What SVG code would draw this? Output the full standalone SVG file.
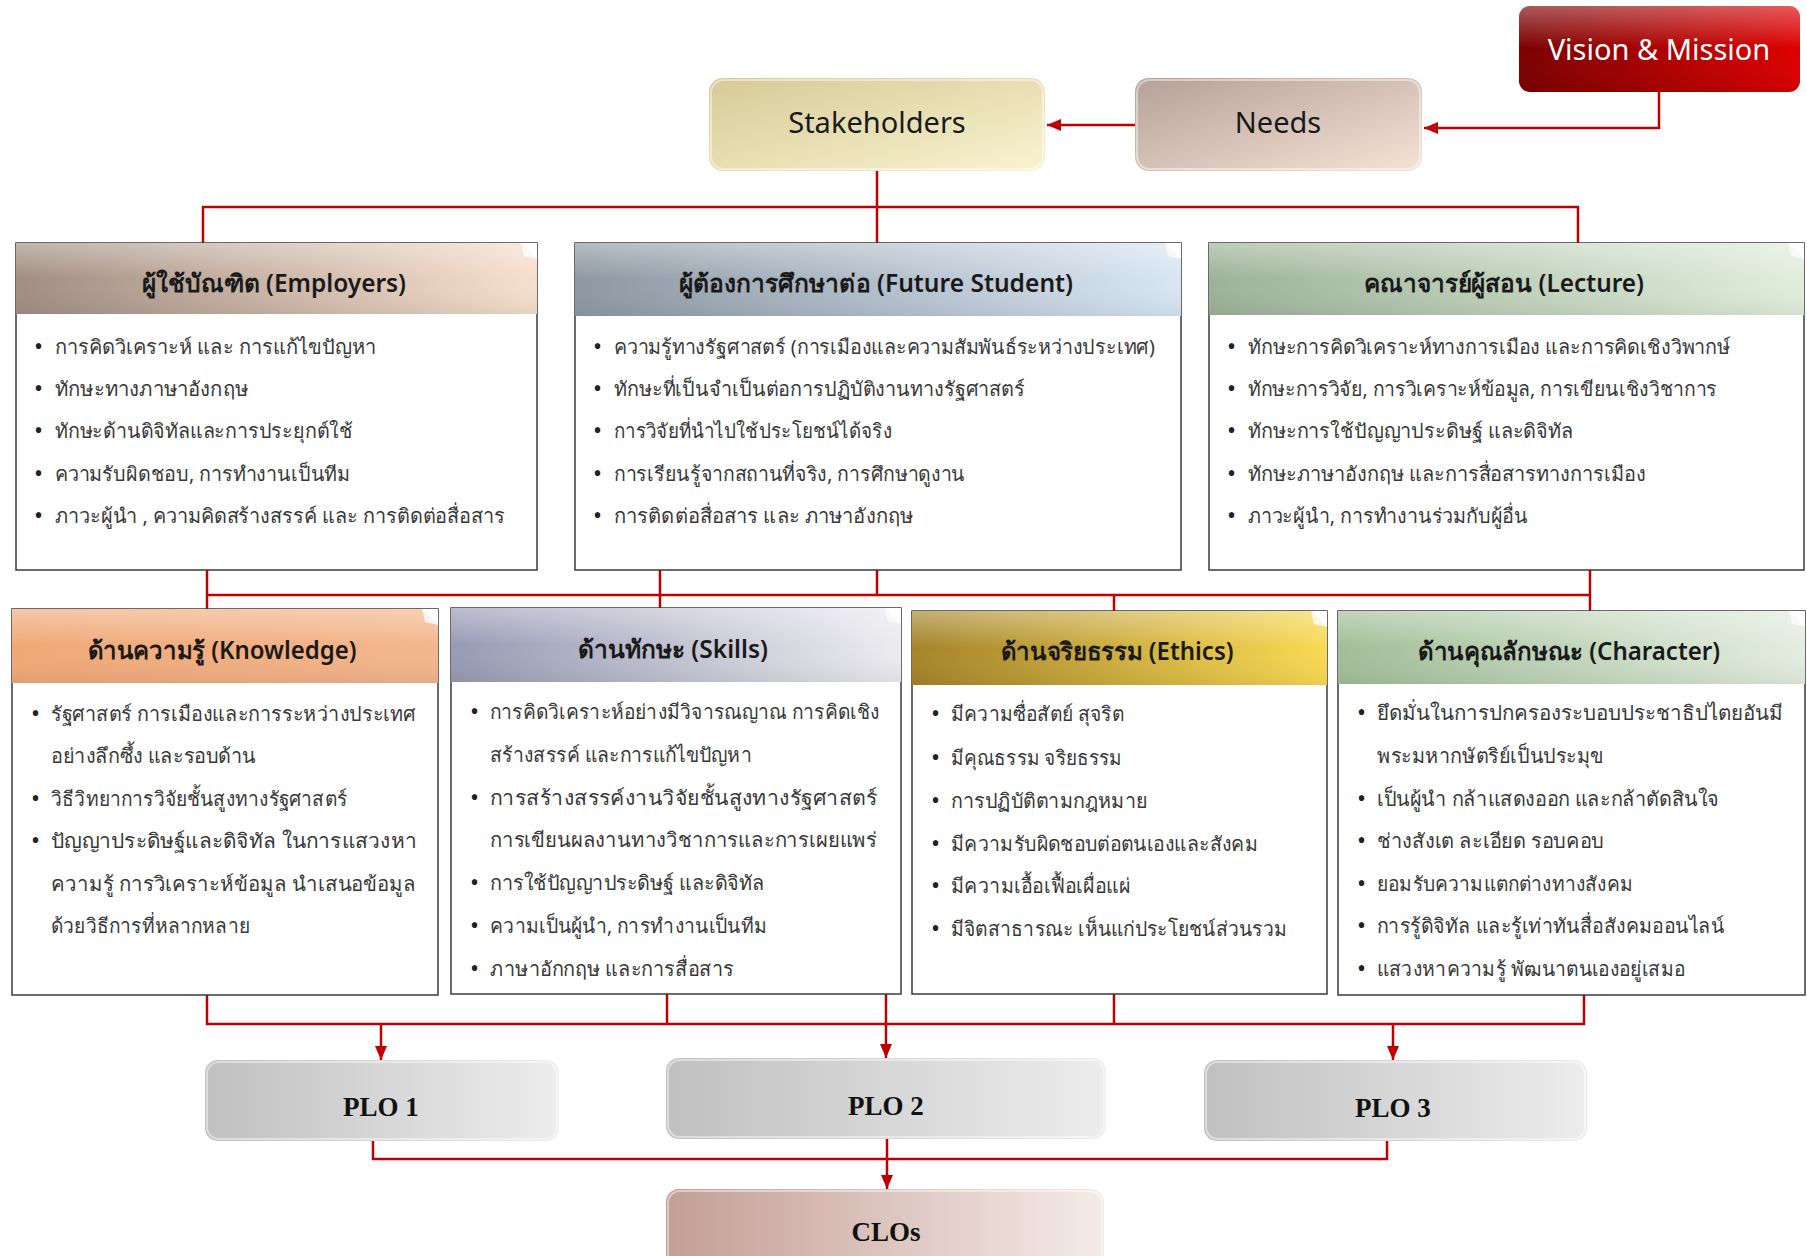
<svg xmlns="http://www.w3.org/2000/svg" width="1807" height="1256" viewBox="0 0 1807 1256">
<style>
.hd{font-family:"Noto Sans","Open Sans",sans-serif;font-size:24.5px;font-weight:600;fill:#1a1a1a;text-anchor:middle}
.tt{font-family:"Noto Sans","Open Sans",sans-serif;font-size:29px;fill:#1a1a1a;text-anchor:middle}
.bd{font-family:"Noto Sans",sans-serif;font-size:20px;fill:#383838}
.bd3{font-family:"Noto Sans",sans-serif;font-size:20.5px;fill:#383838}
.bu{font-size:24px;fill:#222}
.plo{font-family:"Liberation Serif",serif;font-weight:bold;font-size:27px;fill:#111;text-anchor:middle}
.body{fill:#fff;stroke:#3a3a3a;stroke-width:1.5}
.fold{fill:#fafafa;opacity:0.85}
.con{fill:none;stroke:#c00000;stroke-width:2.5}
.gloss{fill:none;stroke:#fff;stroke-opacity:0.45;stroke-width:2}
</style>
<defs>
<marker id="ah" viewBox="0 0 14 12" refX="14" refY="6" markerWidth="14" markerHeight="12" markerUnits="userSpaceOnUse" orient="auto"><path d="M0,0 L14,6 L0,12 z" fill="#c00000"/></marker>
<linearGradient id="gStake" x1="0" y1="0" x2="1" y2="1"><stop offset="0" stop-color="#d5ca96"/><stop offset="1" stop-color="#faf3d0"/></linearGradient>
<linearGradient id="gNeeds" x1="0" y1="0" x2="1" y2="1"><stop offset="0" stop-color="#b3a199"/><stop offset="1" stop-color="#f7e2d5"/></linearGradient>
<linearGradient id="gVision" x1="0" y1="0" x2="1" y2="0"><stop offset="0" stop-color="#7a0000"/><stop offset="1" stop-color="#dd0000"/></linearGradient>
<linearGradient id="gPLO" x1="0" y1="0" x2="1" y2="0"><stop offset="0" stop-color="#c0c0c0"/><stop offset="1" stop-color="#ededed"/></linearGradient>
<linearGradient id="gCLO" x1="0" y1="0" x2="1" y2="0"><stop offset="0" stop-color="#c49e95"/><stop offset="1" stop-color="#f5ebe8"/></linearGradient>
<linearGradient id="hEmp" x1="0" y1="0" x2="1" y2="0"><stop offset="0" stop-color="#a18e83"/><stop offset="1" stop-color="#f7dfcd"/></linearGradient>
<linearGradient id="hFS" x1="0" y1="0" x2="1" y2="0"><stop offset="0" stop-color="#8d98a3"/><stop offset="1" stop-color="#d8e6f3"/></linearGradient>
<linearGradient id="hLec" x1="0" y1="0" x2="1" y2="0"><stop offset="0" stop-color="#9db299"/><stop offset="1" stop-color="#e1eedc"/></linearGradient>
<linearGradient id="hKnow" x1="0" y1="0" x2="1" y2="0"><stop offset="0" stop-color="#f0a877"/><stop offset="1" stop-color="#f4b68c"/></linearGradient>
<linearGradient id="hSkill" x1="0" y1="0" x2="1" y2="0"><stop offset="0" stop-color="#989ab4"/><stop offset="1" stop-color="#ececf0"/></linearGradient>
<linearGradient id="hEth" x1="0" y1="0" x2="1" y2="0"><stop offset="0" stop-color="#a4842a"/><stop offset="1" stop-color="#f9d953"/></linearGradient>
<linearGradient id="hChar" x1="0" y1="0" x2="1" y2="0"><stop offset="0" stop-color="#a1be97"/><stop offset="1" stop-color="#e3ede0"/></linearGradient>
<linearGradient id="shine" x1="0" y1="0" x2="0" y2="1"><stop offset="0" stop-color="#fff" stop-opacity="0.35"/><stop offset="0.5" stop-color="#fff" stop-opacity="0"/><stop offset="1" stop-color="#000" stop-opacity="0.06"/></linearGradient>
</defs>
<rect width="1807" height="1256" fill="#fff"/>

<g id="connectors">
<path class="con" d="M1135,125 H1047" marker-end="url(#ah)"/>
<path class="con" d="M1659,92 V128 H1424" marker-end="url(#ah)"/>
<path class="con" d="M877,171 V243"/>
<path class="con" d="M203,243 V207 H1578 V243"/>
<path class="con" d="M207,570 V609"/>
<path class="con" d="M660,570 V608"/>
<path class="con" d="M877,570 V595"/>
<path class="con" d="M1590,570 V611"/>
<path class="con" d="M207,595 H1590"/>
<path class="con" d="M1114,595 V611"/>
<path class="con" d="M207,995 V1024 H1584 V995"/>
<path class="con" d="M667,994 V1024"/>
<path class="con" d="M1114,994 V1024"/>
<path class="con" d="M886,994 V1058" marker-end="url(#ah)"/>
<path class="con" d="M381,1024 V1060" marker-end="url(#ah)"/>
<path class="con" d="M1393,1024 V1060" marker-end="url(#ah)"/>
<path class="con" d="M373,1140 V1159 H1387 V1141"/>
<path class="con" d="M887,1139 V1189" marker-end="url(#ah)"/>
</g>

<g id="vision">
<rect x="1519" y="6" width="281" height="86" rx="11" fill="url(#gVision)"/>
<rect x="1519" y="6" width="281" height="86" rx="11" fill="url(#shine)"/>
<text x="1659" y="60" class="tt" style="fill:#fff">Vision &amp; Mission</text>
</g>
<g id="stakeholders">
<rect x="709" y="78" width="336" height="93" rx="14" fill="url(#gStake)"/>
<rect x="711" y="80" width="332" height="89" rx="13" class="gloss"/>
<text x="877" y="133" class="tt">Stakeholders</text>
</g>
<g id="needs">
<rect x="1135" y="78" width="287" height="93" rx="14" fill="url(#gNeeds)"/>
<rect x="1137" y="80" width="283" height="89" rx="13" class="gloss"/>
<text x="1278" y="133" class="tt">Needs</text>
</g>

<g id="employers">
<rect x="16" y="243" width="521" height="327" class="body"/>
<rect x="16" y="243" width="521" height="71" fill="url(#hEmp)"/>
<rect x="16" y="243" width="521" height="71" fill="url(#shine)"/>
<polygon points="521,243 537,259 524,256" class="fold"/>
<polygon points="521,243 537,243 537,259" fill="#fff"/>
<text x="274" y="292" class="hd" textLength="264" lengthAdjust="spacingAndGlyphs">ผู้ใช้บัณฑิต (Employers)</text>
<text class="bd"><tspan class="bu" x="34" y="355">•</tspan><tspan x="55" y="354" textLength="321" lengthAdjust="spacingAndGlyphs">การคิดวิเคราะห์ และ การแก้ไขปัญหา</tspan></text>
<text class="bd"><tspan class="bu" x="34" y="397">•</tspan><tspan x="55" y="396" textLength="193" lengthAdjust="spacingAndGlyphs">ทักษะทางภาษาอังกฤษ</tspan></text>
<text class="bd"><tspan class="bu" x="34" y="439">•</tspan><tspan x="55" y="438" textLength="298" lengthAdjust="spacingAndGlyphs">ทักษะด้านดิจิทัลและการประยุกต์ใช้</tspan></text>
<text class="bd"><tspan class="bu" x="34" y="482">•</tspan><tspan x="55" y="481" textLength="295" lengthAdjust="spacingAndGlyphs">ความรับผิดชอบ, การทำงานเป็นทีม</tspan></text>
<text class="bd"><tspan class="bu" x="34" y="524">•</tspan><tspan x="55" y="523" textLength="450" lengthAdjust="spacingAndGlyphs">ภาวะผู้นำ , ความคิดสร้างสรรค์ และ การติดต่อสื่อสาร</tspan></text>
</g>

<g id="future-student">
<rect x="575" y="243" width="606" height="327" class="body"/>
<rect x="575" y="243" width="606" height="73" fill="url(#hFS)"/>
<rect x="575" y="243" width="606" height="73" fill="url(#shine)"/>
<polygon points="1165,243 1181,259 1168,256" class="fold"/>
<polygon points="1165,243 1181,243 1181,259" fill="#fff"/>
<text x="876" y="292" class="hd" textLength="394" lengthAdjust="spacingAndGlyphs">ผู้ต้องการศึกษาต่อ (Future Student)</text>
<text class="bd"><tspan class="bu" x="593" y="355">•</tspan><tspan x="614" y="354" textLength="541" lengthAdjust="spacingAndGlyphs">ความรู้ทางรัฐศาสตร์ (การเมืองและความสัมพันธ์ระหว่างประเทศ)</tspan></text>
<text class="bd"><tspan class="bu" x="593" y="397">•</tspan><tspan x="614" y="396" textLength="411" lengthAdjust="spacingAndGlyphs">ทักษะที่เป็นจำเป็นต่อการปฏิบัติงานทางรัฐศาสตร์</tspan></text>
<text class="bd"><tspan class="bu" x="593" y="439">•</tspan><tspan x="614" y="438" textLength="278" lengthAdjust="spacingAndGlyphs">การวิจัยที่นำไปใช้ประโยชน์ได้จริง</tspan></text>
<text class="bd"><tspan class="bu" x="593" y="482">•</tspan><tspan x="614" y="481" textLength="351" lengthAdjust="spacingAndGlyphs">การเรียนรู้จากสถานที่จริง, การศึกษาดูงาน</tspan></text>
<text class="bd"><tspan class="bu" x="593" y="524">•</tspan><tspan x="614" y="523" textLength="299" lengthAdjust="spacingAndGlyphs">การติดต่อสื่อสาร และ ภาษาอังกฤษ</tspan></text>
</g>

<g id="lecture">
<rect x="1209" y="243" width="595" height="327" class="body"/>
<rect x="1209" y="243" width="595" height="72" fill="url(#hLec)"/>
<rect x="1209" y="243" width="595" height="72" fill="url(#shine)"/>
<polygon points="1788,243 1804,259 1791,256" class="fold"/>
<polygon points="1788,243 1804,243 1804,259" fill="#fff"/>
<text x="1504" y="292" class="hd" textLength="280" lengthAdjust="spacingAndGlyphs">คณาจารย์ผู้สอน (Lecture)</text>
<text class="bd"><tspan class="bu" x="1227" y="355">•</tspan><tspan x="1248" y="354" textLength="482" lengthAdjust="spacingAndGlyphs">ทักษะการคิดวิเคราะห์ทางการเมือง และการคิดเชิงวิพากษ์</tspan></text>
<text class="bd"><tspan class="bu" x="1227" y="397">•</tspan><tspan x="1248" y="396" textLength="469" lengthAdjust="spacingAndGlyphs">ทักษะการวิจัย, การวิเคราะห์ข้อมูล, การเขียนเชิงวิชาการ</tspan></text>
<text class="bd"><tspan class="bu" x="1227" y="439">•</tspan><tspan x="1248" y="438" textLength="325" lengthAdjust="spacingAndGlyphs">ทักษะการใช้ปัญญาประดิษฐ์ และดิจิทัล</tspan></text>
<text class="bd"><tspan class="bu" x="1227" y="482">•</tspan><tspan x="1248" y="481" textLength="398" lengthAdjust="spacingAndGlyphs">ทักษะภาษาอังกฤษ และการสื่อสารทางการเมือง</tspan></text>
<text class="bd"><tspan class="bu" x="1227" y="524">•</tspan><tspan x="1248" y="523" textLength="280" lengthAdjust="spacingAndGlyphs">ภาวะผู้นำ, การทำงานร่วมกับผู้อื่น</tspan></text>
</g>

<g id="knowledge">
<rect x="12" y="609" width="426" height="386" class="body"/>
<rect x="12" y="609" width="426" height="74" fill="url(#hKnow)"/>
<rect x="12" y="609" width="426" height="74" fill="url(#shine)"/>
<polygon points="422,609 438,625 425,622" class="fold"/>
<polygon points="422,609 438,609 438,625" fill="#fff"/>
<text x="222" y="659" class="hd" textLength="269" lengthAdjust="spacingAndGlyphs">ด้านความรู้ (Knowledge)</text>
<text class="bd3"><tspan class="bu" x="31" y="722">•</tspan><tspan x="51" y="721" textLength="365" lengthAdjust="spacingAndGlyphs">รัฐศาสตร์ การเมืองและการระหว่างประเทศ</tspan></text>
<text class="bd3" x="51" y="763" textLength="205" lengthAdjust="spacingAndGlyphs">อย่างลึกซึ้ง และรอบด้าน</text>
<text class="bd3"><tspan class="bu" x="31" y="807">•</tspan><tspan x="51" y="806" textLength="296" lengthAdjust="spacingAndGlyphs">วิธีวิทยาการวิจัยชั้นสูงทางรัฐศาสตร์</tspan></text>
<text class="bd3"><tspan class="bu" x="31" y="849">•</tspan><tspan x="51" y="848" textLength="366" lengthAdjust="spacingAndGlyphs">ปัญญาประดิษฐ์และดิจิทัล ในการแสวงหา</tspan></text>
<text class="bd3" x="51" y="891" textLength="365" lengthAdjust="spacingAndGlyphs">ความรู้ การวิเคราะห์ข้อมูล นำเสนอข้อมูล</text>
<text class="bd3" x="51" y="933" textLength="199" lengthAdjust="spacingAndGlyphs">ด้วยวิธีการที่หลากหลาย</text>
</g>

<g id="skills">
<rect x="451" y="608" width="450" height="386" class="body"/>
<rect x="451" y="608" width="450" height="74" fill="url(#hSkill)"/>
<rect x="451" y="608" width="450" height="74" fill="url(#shine)"/>
<polygon points="885,608 901,624 888,621" class="fold"/>
<polygon points="885,608 901,608 901,624" fill="#fff"/>
<text x="673" y="658" class="hd" textLength="190" lengthAdjust="spacingAndGlyphs">ด้านทักษะ (Skills)</text>
<text class="bd3"><tspan class="bu" x="470" y="720">•</tspan><tspan x="490" y="719" textLength="389" lengthAdjust="spacingAndGlyphs">การคิดวิเคราะห์อย่างมีวิจารณญาณ การคิดเชิง</tspan></text>
<text class="bd3" x="490" y="762" textLength="262" lengthAdjust="spacingAndGlyphs">สร้างสรรค์ และการแก้ไขปัญหา</text>
<text class="bd3"><tspan class="bu" x="470" y="806">•</tspan><tspan x="490" y="805" textLength="387" lengthAdjust="spacingAndGlyphs">การสร้างสรรค์งานวิจัยชั้นสูงทางรัฐศาสตร์</tspan></text>
<text class="bd3" x="490" y="847" textLength="387" lengthAdjust="spacingAndGlyphs">การเขียนผลงานทางวิชาการและการเผยแพร่</text>
<text class="bd3"><tspan class="bu" x="470" y="891">•</tspan><tspan x="490" y="890" textLength="275" lengthAdjust="spacingAndGlyphs">การใช้ปัญญาประดิษฐ์ และดิจิทัล</tspan></text>
<text class="bd3"><tspan class="bu" x="470" y="934">•</tspan><tspan x="490" y="933" textLength="277" lengthAdjust="spacingAndGlyphs">ความเป็นผู้นำ, การทำงานเป็นทีม</tspan></text>
<text class="bd3"><tspan class="bu" x="470" y="977">•</tspan><tspan x="490" y="976" textLength="244" lengthAdjust="spacingAndGlyphs">ภาษาอักกฤษ และการสื่อสาร</tspan></text>
</g>

<g id="ethics">
<rect x="912" y="611" width="415" height="383" class="body"/>
<rect x="912" y="611" width="415" height="74" fill="url(#hEth)"/>
<rect x="912" y="611" width="415" height="74" fill="url(#shine)"/>
<polygon points="1311,611 1327,627 1314,624" class="fold"/>
<polygon points="1311,611 1327,611 1327,627" fill="#fff"/>
<text x="1117" y="660" class="hd" textLength="233" lengthAdjust="spacingAndGlyphs">ด้านจริยธรรม (Ethics)</text>
<text class="bd3"><tspan class="bu" x="931" y="722">•</tspan><tspan x="951" y="721" textLength="173" lengthAdjust="spacingAndGlyphs">มีความซื่อสัตย์ สุจริต</tspan></text>
<text class="bd3"><tspan class="bu" x="931" y="766">•</tspan><tspan x="951" y="765" textLength="171" lengthAdjust="spacingAndGlyphs">มีคุณธรรม จริยธรรม</tspan></text>
<text class="bd3"><tspan class="bu" x="931" y="809">•</tspan><tspan x="951" y="808" textLength="197" lengthAdjust="spacingAndGlyphs">การปฏิบัติตามกฎหมาย</tspan></text>
<text class="bd3"><tspan class="bu" x="931" y="852">•</tspan><tspan x="951" y="851" textLength="307" lengthAdjust="spacingAndGlyphs">มีความรับผิดชอบต่อตนเองและสังคม</tspan></text>
<text class="bd3"><tspan class="bu" x="931" y="894">•</tspan><tspan x="951" y="893" textLength="179" lengthAdjust="spacingAndGlyphs">มีความเอื้อเฟื้อเผื่อแผ่</tspan></text>
<text class="bd3"><tspan class="bu" x="931" y="937">•</tspan><tspan x="951" y="936" textLength="336" lengthAdjust="spacingAndGlyphs">มีจิตสาธารณะ เห็นแก่ประโยชน์ส่วนรวม</tspan></text>
</g>

<g id="character">
<rect x="1338" y="611" width="467" height="384" class="body"/>
<rect x="1338" y="611" width="467" height="73" fill="url(#hChar)"/>
<rect x="1338" y="611" width="467" height="73" fill="url(#shine)"/>
<polygon points="1789,611 1805,627 1792,624" class="fold"/>
<polygon points="1789,611 1805,611 1805,627" fill="#fff"/>
<text x="1569" y="660" class="hd" textLength="302" lengthAdjust="spacingAndGlyphs">ด้านคุณลักษณะ (Character)</text>
<text class="bd3"><tspan class="bu" x="1357" y="721">•</tspan><tspan x="1377" y="720" textLength="406" lengthAdjust="spacingAndGlyphs">ยึดมั่นในการปกครองระบอบประชาธิปไตยอันมี</tspan></text>
<text class="bd3" x="1377" y="763" textLength="227" lengthAdjust="spacingAndGlyphs">พระมหากษัตริย์เป็นประมุข</text>
<text class="bd3"><tspan class="bu" x="1357" y="807">•</tspan><tspan x="1377" y="806" textLength="342" lengthAdjust="spacingAndGlyphs">เป็นผู้นำ กล้าแสดงออก และกล้าตัดสินใจ</tspan></text>
<text class="bd3"><tspan class="bu" x="1357" y="849">•</tspan><tspan x="1377" y="848" textLength="227" lengthAdjust="spacingAndGlyphs">ช่างสังเต ละเอียด รอบคอบ</tspan></text>
<text class="bd3"><tspan class="bu" x="1357" y="892">•</tspan><tspan x="1377" y="891" textLength="256" lengthAdjust="spacingAndGlyphs">ยอมรับความแตกต่างทางสังคม</tspan></text>
<text class="bd3"><tspan class="bu" x="1357" y="934">•</tspan><tspan x="1377" y="933" textLength="347" lengthAdjust="spacingAndGlyphs">การรู้ดิจิทัล และรู้เท่าทันสื่อสังคมออนไลน์</tspan></text>
<text class="bd3"><tspan class="bu" x="1357" y="977">•</tspan><tspan x="1377" y="976" textLength="308" lengthAdjust="spacingAndGlyphs">แสวงหาความรู้ พัฒนาตนเองอยู่เสมอ</tspan></text>
</g>

<g id="plo1">
<rect x="205" y="1060" width="354" height="81" rx="13" fill="url(#gPLO)"/>
<rect x="207" y="1062" width="350" height="77" rx="12" class="gloss"/>
<text x="381" y="1116" class="plo">PLO 1</text>
</g>
<g id="plo2">
<rect x="666" y="1058" width="440" height="81" rx="13" fill="url(#gPLO)"/>
<rect x="668" y="1060" width="436" height="77" rx="12" class="gloss"/>
<text x="886" y="1115" class="plo">PLO 2</text>
</g>
<g id="plo3">
<rect x="1204" y="1060" width="383" height="81" rx="13" fill="url(#gPLO)"/>
<rect x="1206" y="1062" width="379" height="77" rx="12" class="gloss"/>
<text x="1393" y="1117" class="plo">PLO 3</text>
</g>
<g id="clos">
<rect x="666" y="1189" width="438" height="90" rx="13" fill="url(#gCLO)"/>
<rect x="668" y="1191" width="434" height="86" rx="12" class="gloss"/>
<text x="886" y="1241" class="plo">CLOs</text>
</g>
</svg>
